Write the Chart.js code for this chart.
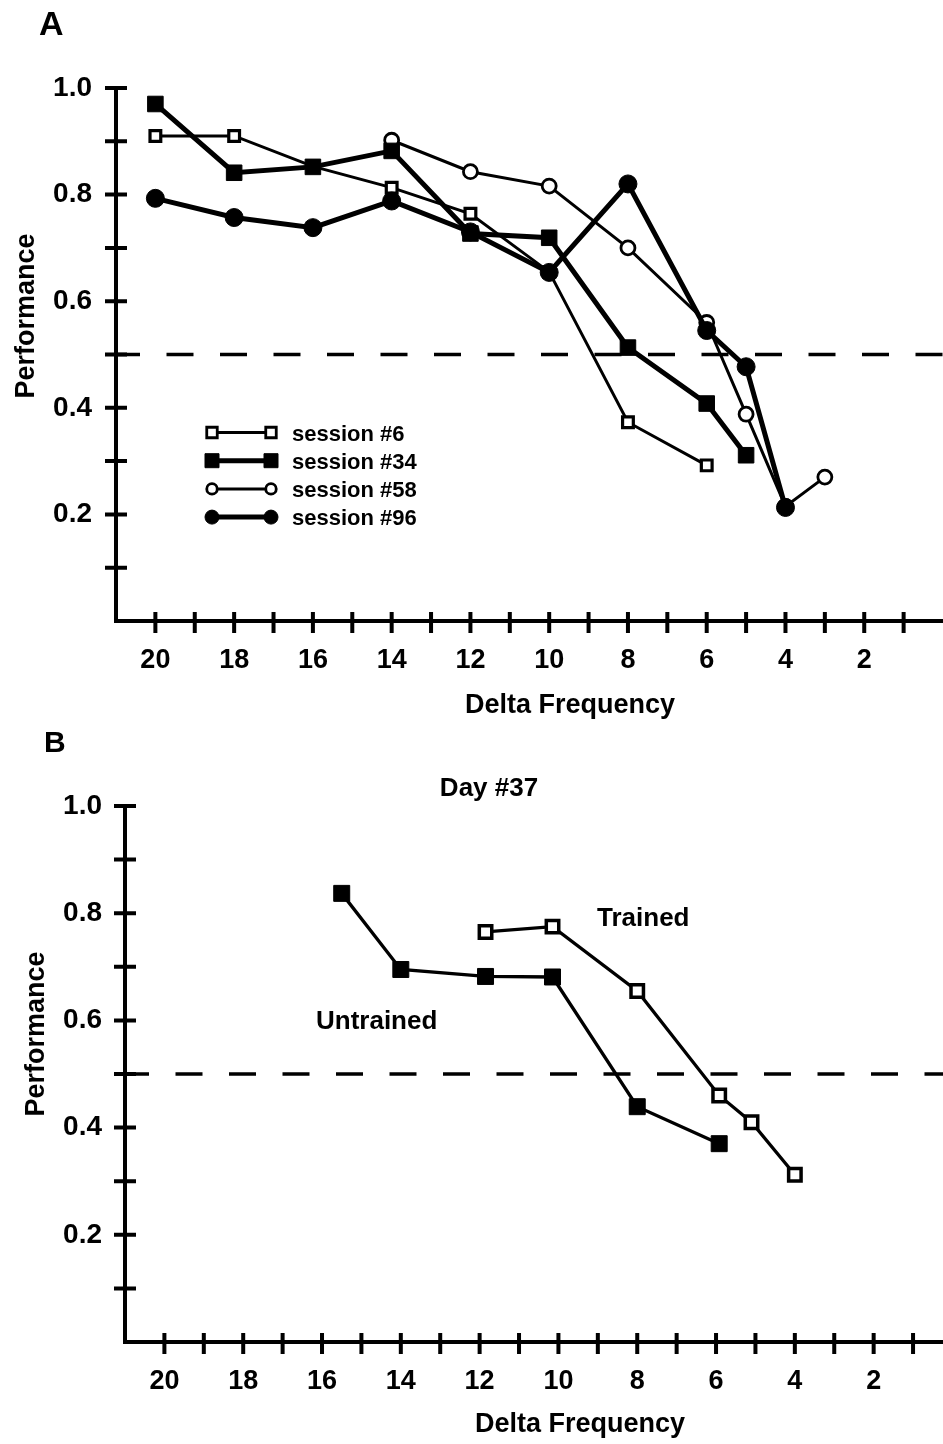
<!DOCTYPE html>
<html>
<head>
<meta charset="utf-8">
<title>Performance vs Delta Frequency</title>
<script src="https://cdn.jsdelivr.net/npm/chart.js@4.4.1/dist/chart.umd.min.js"></script>
<style>
  body { margin: 0; background: #fff; overflow: hidden; }
  canvas { display: block; }
</style>
</head>
<body>
<canvas id="chartA" width="943" height="720"></canvas>
<canvas id="chartB" width="943" height="724"></canvas>
<script>
// ---- panel A : performance per session ----
var freqA     = [20, 18, 16, 14, 12, 10, 8, 6, 5, 4, 3];
var session6  = [0.910, 0.910, 0.853, 0.813, 0.764, 0.655, 0.373, 0.292, null, null, null];
var session34 = [0.970, 0.841, 0.852, 0.882, 0.727, 0.719, 0.513, 0.408, 0.311, null, null];
var session58 = [null, null, null, 0.902, 0.843, 0.816, 0.700, 0.560, 0.388, 0.215, 0.270];
var session96 = [0.793, 0.757, 0.738, 0.788, 0.730, 0.654, 0.820, 0.545, 0.477, 0.213, null];

// ---- panel B : day #37 ----
var untrainedFreq = [15.5, 14, 11.85, 10.15, 8, 5.92];
var untrainedPerf = [0.837, 0.695, 0.682, 0.681, 0.439, 0.370];
var trainedFreq   = [11.85, 10.15, 8, 5.92, 5.1, 4];
var trainedPerf   = [0.765, 0.775, 0.655, 0.460, 0.410, 0.312];

var chanceLevel = 0.5;
var xTickValues = [1, 2, 3, 4, 5, 6, 7, 8, 9, 10, 11, 12, 13, 14, 15, 16, 17, 18, 19, 20, 21];
var yTickValues = [0, 0.1, 0.2, 0.3, 0.4, 0.5, 0.6, 0.7, 0.8, 0.9, 1.0];

var FONT = '"Liberation Sans", Arial, Helvetica, sans-serif';
Chart.defaults.font.family = FONT;
Chart.defaults.color = '#000';

function toPoints(xs, ys) {
    var pts = [];
    for (var i = 0; i < xs.length; i++) {
        if (ys[i] !== null) pts.push({x: xs[i], y: ys[i]});
    }
    return pts;
}

function chanceLine() {
    return {
        label: 'chance',
        data: [{x: 21, y: chanceLevel}, {x: 0, y: chanceLevel}],
        borderColor: '#000',
        borderWidth: 3.5,
        borderDash: [27, 26.5],
        borderDashOffset: 3,
        pointRadius: 0,
        order: 9
    };
}

// ticks that cross the axis lines
var crossTicks = {
    id: 'crossTicks',
    beforeDatasetsDraw: function(chart) {
        var ctx = chart.ctx, a = chart.chartArea;
        var xs = chart.scales.x, ys = chart.scales.y;
        ctx.save();
        ctx.strokeStyle = '#000';
        ctx.lineWidth = 4;
        ctx.beginPath();
        ys.ticks.forEach(function(t) {
            if (t.value <= 0) return;
            var py = ys.getPixelForValue(t.value);
            ctx.moveTo(a.left - 11, py);
            ctx.lineTo(a.left + 11, py);
        });
        xs.ticks.forEach(function(t) {
            if (t.value >= 21) return;
            var px = xs.getPixelForValue(t.value);
            ctx.moveTo(px, a.bottom - 9);
            ctx.lineTo(px, a.bottom + 12);
        });
        ctx.stroke();
        ctx.restore();
    }
};

// free texts: panel letter, axis titles, annotations
var panelTexts = {
    id: 'panelTexts',
    afterDraw: function(chart, args, opts) {
        var ctx = chart.ctx;
        (opts.items || []).forEach(function(it) {
            ctx.save();
            ctx.font = 'bold ' + it.size + 'px ' + FONT;
            ctx.fillStyle = '#000';
            ctx.textAlign = it.align || 'left';
            ctx.textBaseline = 'alphabetic';
            ctx.translate(it.x, it.y);
            if (it.rotate) ctx.rotate(-Math.PI / 2);
            ctx.fillText(it.text, 0, 0);
            ctx.restore();
        });
    }
};

function drawMarker(ctx, style, filled, size, x, y, lw) {
    ctx.beginPath();
    if (style === 'rect') ctx.rect(x - size / 2, y - size / 2, size, size);
    else ctx.arc(x, y, size / 2, 0, Math.PI * 2);
    ctx.fillStyle = filled ? '#000' : '#fff';
    ctx.fill();
    ctx.lineWidth = lw;
    ctx.strokeStyle = '#000';
    ctx.stroke();
}

// legend: line with a marker at both ends
var sessionLegend = {
    id: 'sessionLegend',
    afterDraw: function(chart, args, opts) {
        if (!opts.display) return;
        var ctx = chart.ctx;
        var sets = chart.data.datasets.filter(function(d) { return d.inLegend; });
        ctx.save();
        sets.forEach(function(d, i) {
            var y = opts.y0 + i * opts.dy;
            var filled = d.pointBackgroundColor === '#000';
            ctx.beginPath();
            ctx.moveTo(opts.x0, y);
            ctx.lineTo(opts.x1, y);
            ctx.lineWidth = d.borderWidth;
            ctx.strokeStyle = '#000';
            ctx.stroke();
            var size = filled ? 14 : 10.5;
            drawMarker(ctx, d.pointStyle, filled, size, opts.x0, y, filled ? 1 : 2.8);
            drawMarker(ctx, d.pointStyle, filled, size, opts.x1, y, filled ? 1 : 2.8);
            ctx.font = 'bold 22px ' + FONT;
            ctx.fillStyle = '#000';
            ctx.textAlign = 'left';
            ctx.textBaseline = 'alphabetic';
            ctx.fillText(d.label, opts.textX, y + 8);
        });
        ctx.restore();
    }
};

function makeScales(xMin, leftWidth, bottomHeight, yPad) {
    return {
        x: {
            type: 'linear',
            reverse: true,
            min: xMin,
            max: 21,
            grid: {display: false},
            border: {display: true, color: '#000', width: 4},
            afterBuildTicks: function(s) {
                s.ticks = xTickValues.filter(function(v) { return v >= xMin; })
                    .map(function(v) { return {value: v}; });
            },
            afterFit: function(s) { s.height = bottomHeight; },
            ticks: {
                autoSkip: false,
                maxRotation: 0,
                padding: 15,
                color: '#000',
                font: {size: 27, weight: 'bold'},
                callback: function(v) { return (v % 2 === 0 && v < 21) ? String(v) : ''; }
            }
        },
        y: {
            type: 'linear',
            min: 0,
            max: 1,
            grid: {display: false},
            border: {display: true, color: '#000', width: 4},
            afterBuildTicks: function(s) {
                s.ticks = yTickValues.map(function(v) { return {value: v}; });
            },
            afterFit: function(s) { s.width = leftWidth; },
            ticks: {
                autoSkip: false,
                padding: yPad,
                color: '#000',
                font: {size: 28, weight: 'bold'},
                callback: function(v) {
                    var t = Math.round(v * 10);
                    return (t > 0 && t % 2 === 0) ? (t / 10).toFixed(1) : '';
                }
            }
        }
    };
}

// panel A
new Chart(document.getElementById('chartA'), {
    type: 'line',
    data: {
        datasets: [
            {
                label: 'session #6', inLegend: true,
                data: toPoints(freqA, session6),
                borderColor: '#000', borderWidth: 3,
                pointStyle: 'rect', pointRadius: 7.6, pointBorderWidth: 3.2,
                pointBackgroundColor: '#fff', pointBorderColor: '#000',
                order: 4
            },
            {
                label: 'session #34', inLegend: true,
                data: toPoints(freqA, session34),
                borderColor: '#000', borderWidth: 5,
                pointStyle: 'rect', pointRadius: 11, pointBorderWidth: 1,
                pointBackgroundColor: '#000', pointBorderColor: '#000',
                order: 2
            },
            {
                label: 'session #58', inLegend: true,
                data: toPoints(freqA, session58),
                borderColor: '#000', borderWidth: 3,
                pointStyle: 'circle', pointRadius: 7, pointBorderWidth: 2.8,
                pointBackgroundColor: '#fff', pointBorderColor: '#000',
                order: 3
            },
            {
                label: 'session #96', inLegend: true,
                data: toPoints(freqA, session96),
                borderColor: '#000', borderWidth: 5,
                pointStyle: 'circle', pointRadius: 9, pointBorderWidth: 1,
                pointBackgroundColor: '#000', pointBorderColor: '#000',
                order: 1
            },
            chanceLine()
        ]
    },
    options: {
        responsive: false,
        animation: false,
        layout: {autoPadding: false, padding: {top: 88, left: 0, right: 0, bottom: 0}},
        scales: makeScales(0, 116, 99, 16),
        plugins: {
            legend: {display: false},
            tooltip: {enabled: false},
            sessionLegend: {display: true, x0: 212, x1: 271, y0: 432.5, dy: 28.2, textX: 292},
            panelTexts: {
                items: [
                    {text: 'A', x: 39, y: 35, size: 34},
                    {text: 'Performance', x: 34, y: 316, size: 27, align: 'center', rotate: true},
                    {text: 'Delta Frequency', x: 570, y: 713, size: 27, align: 'center'}
                ]
            }
        }
    },
    plugins: [crossTicks, panelTexts, sessionLegend]
});

// panel B
new Chart(document.getElementById('chartB'), {
    type: 'line',
    data: {
        datasets: [
            {
                label: 'Untrained',
                data: toPoints(untrainedFreq, untrainedPerf),
                borderColor: '#000', borderWidth: 3.3,
                pointStyle: 'rect', pointRadius: 11.3, pointBorderWidth: 1,
                pointBackgroundColor: '#000', pointBorderColor: '#000',
                order: 1
            },
            {
                label: 'Trained',
                data: toPoints(trainedFreq, trainedPerf),
                borderColor: '#000', borderWidth: 3.3,
                pointStyle: 'rect', pointRadius: 8.8, pointBorderWidth: 3.5,
                pointBackgroundColor: '#fff', pointBorderColor: '#000',
                order: 2
            },
            chanceLine()
        ]
    },
    options: {
        responsive: false,
        animation: false,
        layout: {autoPadding: false, padding: {top: 86, left: 0, right: 0, bottom: 0}},
        scales: makeScales(0.24, 125, 102, 15),
        plugins: {
            legend: {display: false},
            tooltip: {enabled: false},
            sessionLegend: {display: false},
            panelTexts: {
                items: [
                    {text: 'B', x: 44, y: 32, size: 30},
                    {text: 'Day #37', x: 489, y: 76, size: 26, align: 'center'},
                    {text: 'Trained', x: 597, y: 206, size: 26},
                    {text: 'Untrained', x: 316, y: 309, size: 26},
                    {text: 'Performance', x: 44, y: 314, size: 27, align: 'center', rotate: true},
                    {text: 'Delta Frequency', x: 580, y: 712, size: 27, align: 'center'}
                ]
            }
        }
    },
    plugins: [crossTicks, panelTexts, sessionLegend]
});
</script>
</body>
</html>
